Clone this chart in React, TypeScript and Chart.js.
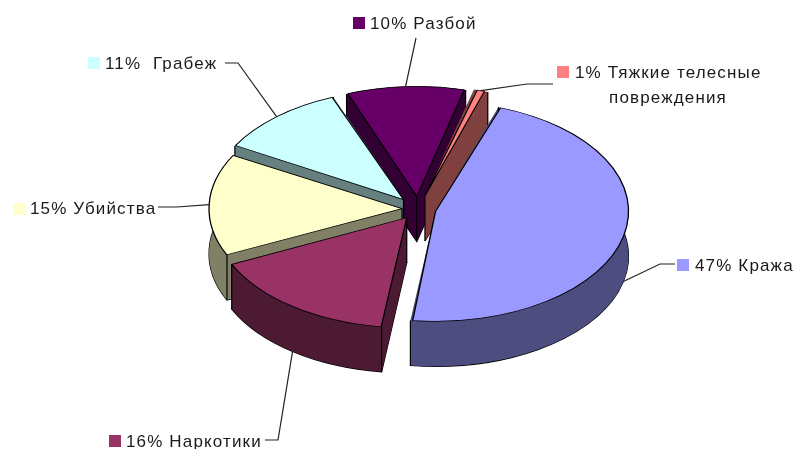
import React, { useEffect, useRef } from "react";
import { Chart, registerables } from "chart.js";

Chart.register(...registerables);

const categories = ["Кража", "Наркотики", "Убийства", "Грабеж", "Разбой", "Тяжкие телесные повреждения"];
const percents = [46.8, 16, 15, 11, 10, 1.2];
const topColors = ["#9999FF", "#993366", "#FFFFCC", "#CCFFFF", "#660066", "#FF8080"];
const sideColors = ["#4D4D80", "#4D1A33", "#808066", "#668080", "#330033", "#804040"];
const explodeDistances = [18, 19, 16, 22, 22, 24];
const labelLines = [
  ["47% Кража"],
  ["16% Наркотики"],
  ["15% Убийства"],
  ["11%  Грабеж"],
  ["10% Разбой"],
  ["1% Тяжкие телесные", "повреждения"],
];

const ROTATION = 19;
const RADIUS = 193;
const TILT = 0.57;
const DEPTH = 45;
const WALL_ORDER = [4, 5, 3, 2, 0, 1];
const HIDDEN_START_EDGE = [5];
const FONT = '17px "Liberation Sans", Arial, sans-serif';
const TEXT_COLOR = "#1a1a1a";

// key square x/y, text x, baselines, leader points after the start on the slice
const labelLayout = [
  { key: [677, 259], textX: 695, base: [271], centerX: 0, leader: [[660, 264], [675, 264]], front: true },
  { key: [109, 435], textX: 126, base: [447], centerX: 0, leader: [[278, 440], [265, 440]], front: true },
  { key: [13, 203], textX: 30, base: [214], centerX: 0, leader: [[177, 207], [158, 207]], front: false },
  { key: [88, 57], textX: 105, base: [69], centerX: 0, leader: [[238, 63], [225, 63]], front: false },
  { key: [353, 17], textX: 370, base: [29], centerX: 0, leader: [[416, 38]], front: false },
  { key: [557, 66], textX: 575, base: [78, 103], centerX: 668, leader: [[527, 84], [553, 84]], front: false },
];

function sliceGeometry(el: any, i: number) {
  const mid = (el.startAngle + el.endAngle) / 2;
  const d = explodeDistances[i];
  return {
    mid,
    ax: el.x + Math.cos(mid) * d,
    ay: el.y + Math.sin(mid) * d * TILT,
  };
}

const pie3d = {
  id: "pie3d",
  afterDatasetsUpdate(chart: any) {
    // Chart.js grows an offset arc's radius; undo that so every slice has the same radius.
    chart.getDatasetMeta(0).data.forEach((el: any, i: number) => {
      const c = (percents[i] / 100) * Math.PI * 2;
      const fix = 1 - Math.sin(Math.min(Math.PI, c));
      el.outerRadius = RADIUS - explodeDistances[i] * fix;
    });
  },
  beforeDatasetDraw(chart: any) {
    const ctx = chart.ctx as CanvasRenderingContext2D;
    const arcs = chart.getDatasetMeta(0).data;
    for (const i of WALL_ORDER) {
      const el = arcs[i];
      const g = sliceGeometry(el, i);
      const r = RADIUS;
      const pt = (a: number) => [g.ax + Math.cos(a) * r, g.ay + Math.sin(a) * r * TILT];
      const [sx, sy] = pt(el.startAngle);
      const [ex, ey] = pt(el.endAngle);
      ctx.lineWidth = 1.2;
      ctx.strokeStyle = "#000";
      ctx.fillStyle = sideColors[i];

      // bottom face of the slice
      ctx.save();
      ctx.translate(g.ax, g.ay + DEPTH);
      ctx.scale(1, TILT);
      ctx.beginPath();
      ctx.moveTo(0, 0);
      ctx.arc(0, 0, r, el.startAngle, el.endAngle);
      ctx.closePath();
      ctx.restore();
      ctx.fill();
      ctx.stroke();

      // the two cut faces
      for (const [x, y] of [[sx, sy], [ex, ey]]) {
        ctx.beginPath();
        ctx.moveTo(g.ax, g.ay);
        ctx.lineTo(x, y);
        ctx.lineTo(x, y + DEPTH);
        ctx.lineTo(g.ax, g.ay + DEPTH);
        ctx.closePath();
        ctx.fill();
      }

      // the curved outer wall
      ctx.save();
      ctx.translate(g.ax, g.ay);
      ctx.scale(1, TILT);
      ctx.beginPath();
      ctx.arc(0, 0, r, el.startAngle, el.endAngle);
      ctx.arc(0, DEPTH / TILT, r, el.endAngle, el.startAngle, true);
      ctx.closePath();
      ctx.restore();
      ctx.fill();

      ctx.beginPath();
      if (!HIDDEN_START_EDGE.includes(i)) {
        ctx.moveTo(sx, sy);
        ctx.lineTo(sx, sy + DEPTH);
      }
      ctx.moveTo(ex, ey);
      ctx.lineTo(ex, ey + DEPTH);
      ctx.moveTo(g.ax, g.ay);
      ctx.lineTo(g.ax, g.ay + DEPTH);
      ctx.stroke();
    }
    const c = arcs[0];
    ctx.save();
    ctx.translate(c.x, c.y);
    ctx.scale(1, TILT);
    ctx.translate(-c.x, -c.y);
  },
  afterDatasetDraw(chart: any) {
    chart.ctx.restore();
  },
  afterDraw(chart: any) {
    const ctx = chart.ctx as CanvasRenderingContext2D;
    const arcs = chart.getDatasetMeta(0).data;
    ctx.save();
    ctx.font = FONT;
    (ctx as any).letterSpacing = "1.15px";
    ctx.textBaseline = "alphabetic";
    labelLayout.forEach((l, i) => {
      const el = arcs[i];
      const g = sliceGeometry(el, i);
      const sx = g.ax + Math.cos(g.mid) * RADIUS;
      const sy = g.ay + Math.sin(g.mid) * RADIUS * TILT + (l.front ? DEPTH : 0);
      ctx.strokeStyle = "#222";
      ctx.lineWidth = 1.2;
      ctx.beginPath();
      ctx.moveTo(sx, sy);
      l.leader.forEach((p) => ctx.lineTo(p[0], p[1]));
      ctx.stroke();
      ctx.fillStyle = topColors[i];
      ctx.fillRect(l.key[0], l.key[1], 12, 12);
      ctx.fillStyle = TEXT_COLOR;
      labelLines[i].forEach((t, n) => {
        if (n === 0) {
          ctx.textAlign = "left";
          ctx.fillText(t, l.textX, l.base[n]);
        } else {
          ctx.textAlign = "center";
          ctx.fillText(t, l.centerX, l.base[n]);
        }
      });
    });
    ctx.restore();
  },
};

export default function App() {
  const ref = useRef<HTMLCanvasElement | null>(null);
  useEffect(() => {
    const chart = new Chart(ref.current as HTMLCanvasElement, {
      type: "pie",
      data: {
        labels: categories,
        datasets: [
          {
            data: percents,
            backgroundColor: topColors,
            borderColor: "#000",
            borderWidth: 1.3,
            offset: explodeDistances.map((d) => d * 4),
            clip: false,
          } as any,
        ],
      },
      options: {
        responsive: false,
        animation: false,
        rotation: ROTATION,
        radius: RADIUS,
        layout: { padding: { left: 41, right: 0, top: 0, bottom: 31 } },
        plugins: { legend: { display: false }, tooltip: { enabled: false } },
      } as any,
      plugins: [pie3d],
    });
    return () => chart.destroy();
  }, []);
  return (
    <div style={{ position: "fixed", left: 0, top: 0, width: 795, height: 449, background: "#fff" }}>
      <canvas ref={ref} width={795} height={449} style={{ display: "block" }} />
    </div>
  );
}
